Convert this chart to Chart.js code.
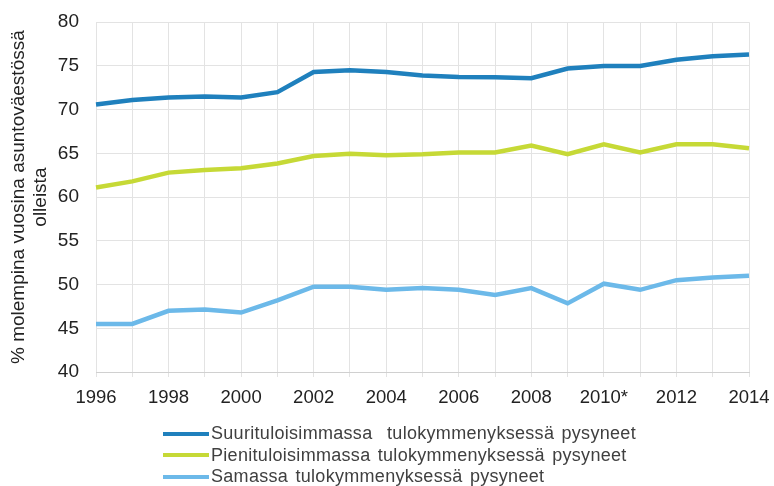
<!DOCTYPE html>
<html>
<head>
<meta charset="utf-8">
<script src="https://cdn.jsdelivr.net/npm/chart.js@4/dist/chart.umd.min.js"></script>
<style>
  body { margin: 0; background: #fff; }
  #wrap { position: relative; width: 774px; height: 486px; }
  #legend {
    position: absolute; left: 163px; top: 423px;
    font-family: "Liberation Sans", Arial, sans-serif; font-size: 18px; color: #404040;
    letter-spacing: 0.3px; word-spacing: 2px;
  }
  .row { height: 21.5px; display: flex; align-items: center; white-space: pre; }
  .swatch { width: 46px; height: 4px; margin-right: 2px; }
</style>
</head>
<body>
<div id="wrap">
  <canvas id="lineChart" width="774" height="486"></canvas>
  <div id="legend"></div>
</div>
<script>
// Years on the x axis (2010 is marked with an asterisk in the source)
const years = ['1996', '1997', '1998', '1999', '2000', '2001', '2002', '2003', '2004', '2005',
               '2006', '2007', '2008', '2009', '2010*', '2011', '2012', '2013', '2014'];

// % of population staying in the same income decile in both years
const highestDecile = [70.6, 71.1, 71.4, 71.5, 71.4, 72.0, 74.3, 74.5, 74.3, 73.9,
                       73.75, 73.7, 73.6, 74.7, 75.0, 75.0, 75.7, 76.1, 76.3];
const lowestDecile = [61.1, 61.8, 62.8, 63.1, 63.3, 63.85, 64.7, 64.95, 64.8, 64.9,
                      65.1, 65.1, 65.9, 64.9, 66.05, 65.1, 66.05, 66.05, 65.6];
const sameDecile = [45.5, 45.5, 47.0, 47.15, 46.8, 48.2, 49.75, 49.75, 49.4, 49.6,
                    49.4, 48.8, 49.6, 47.85, 50.1, 49.4, 50.5, 50.8, 51.0];

const seriesNames = ['Suurituloisimmassa  tulokymmenyksessä pysyneet',
                     'Pienituloisimmassa tulokymmenyksessä pysyneet',
                     'Samassa tulokymmenyksessä pysyneet'];
const seriesColors = ['#1f80bd', '#c6d936', '#6cb9e9'];
const yTitle = ['% molempina vuosina asuntoväestössä', 'olleista'];

const font = "'Liberation Sans', Arial, sans-serif";
const gridColor = '#e3e3e3';

document.addEventListener('DOMContentLoaded', function() {
    const ctx = document.getElementById('lineChart').getContext('2d');
    const values = [highestDecile, lowestDecile, sameDecile];

    new Chart(ctx, {
        type: 'line',
        data: {
            labels: years,
            datasets: values.map((d, i) => ({
                label: seriesNames[i],
                data: d,
                borderColor: seriesColors[i],
                backgroundColor: seriesColors[i],
                borderWidth: 4.5,
                pointRadius: 0,
                tension: 0,
                fill: false
            }))
        },
        options: {
            responsive: false,
            animation: false,
            layout: { padding: { left: 8, right: 25, top: 22, bottom: 0 } },
            plugins: {
                legend: { display: false },
                tooltip: { enabled: false }
            },
            scales: {
                x: {
                    offset: false,
                    grid: { color: gridColor, lineWidth: 1, drawTicks: true, tickLength: 5, tickColor: gridColor },
                    border: { color: '#d0d0d0' },
                    ticks: {
                        autoSkip: false,
                        maxRotation: 0,
                        color: '#222',
                        font: { family: font, size: 18.5 },
                        padding: 10,
                        callback: function(v, i) { return i % 2 === 0 ? years[i] : ''; }
                    },
                    afterFit: function(scale) {
                        scale.height = 114;
                        // let the end labels overhang the plot like in the original
                        scale.paddingLeft = 0;
                        scale.paddingRight = 0;
                    }
                },
                y: {
                    min: 40,
                    max: 80,
                    grid: { color: gridColor, lineWidth: 1, drawTicks: false },
                    border: { display: false },
                    ticks: {
                        stepSize: 5,
                        color: '#222',
                        padding: 17,
                        font: { family: font, size: 19, lineHeight: 0.55 }
                    },
                    title: {
                        display: true,
                        text: yTitle,
                        color: '#222',
                        padding: 0,
                        font: { family: font, size: 19, lineHeight: 1.16 }
                    },
                    afterFit: function(scale) { scale.width = 88; }
                }
            }
        }
    });

    // legend drawn as plain html rows
    const legend = document.getElementById('legend');
    seriesNames.forEach((name, i) => {
        const row = document.createElement('div');
        row.className = 'row';
        row.innerHTML = '<span class="swatch" style="background:' + seriesColors[i] + '"></span>' +
                        '<span>' + name + '</span>';
        legend.appendChild(row);
    });
});
</script>
</body>
</html>
